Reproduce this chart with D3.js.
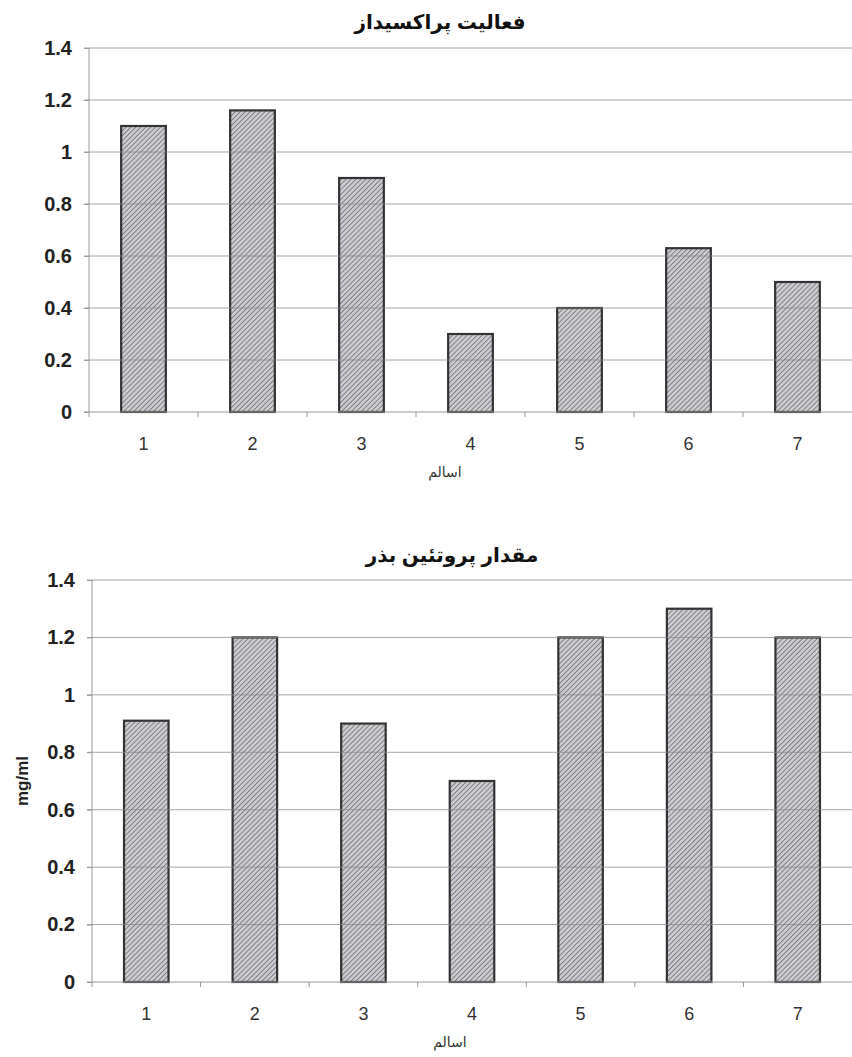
<!doctype html>
<html>
<head>
<meta charset="utf-8"/>
<script src="https://cdnjs.cloudflare.com/ajax/libs/d3/7.8.5/d3.min.js"></script>
<style>
  body { margin: 0; background: #fff; }
  svg { display: block; }
  .title { font-family: Arial, "DejaVu Sans", sans-serif; font-size: 20px; font-weight: bold; fill: #111; }
  .axtitle { font-family: Arial, "DejaVu Sans", sans-serif; font-size: 14px; fill: #333; }
</style>
</head>
<body>
<svg width="852" height="1057"></svg>
<script>
// categories (lines) and values
var categories = ["1", "2", "3", "4", "5", "6", "7"];
var peroxidase = [1.10, 1.16, 0.90, 0.30, 0.40, 0.63, 0.50];
var protein = [0.91, 1.20, 0.90, 0.70, 1.20, 1.30, 1.20];
var yTicks = [0, 0.2, 0.4, 0.6, 0.8, 1, 1.2, 1.4];

var titleTop = "فعالیت پراکسیداز";
var titleBottom = "مقدار پروتئین بذر";
var xTitle = "اسالم";
var yTitleBottom = "mg/ml";

var svg = d3.select("svg");

// hatch pattern for bars
var defs = svg.append("defs");
var pat = defs.append("pattern")
  .attr("id", "hatch")
  .attr("patternUnits", "userSpaceOnUse")
  .attr("width", 3.5).attr("height", 3.5)
  .attr("patternTransform", "rotate(45)");
pat.append("rect").attr("width", 3.5).attr("height", 3.5).attr("fill", "#cacacf");
pat.append("line").attr("x1", 0).attr("y1", 0).attr("x2", 0).attr("y2", 3.5)
  .attr("stroke", "#6e6e74").attr("stroke-width", 1.5);

function drawChart(cfg) {
  var x = d3.scaleBand().domain(categories).range([cfg.left, 852]).paddingInner(0).paddingOuter(0);
  var y = d3.scaleLinear().domain([0, 1.4]).range([cfg.bottom, cfg.top]);
  var bw = x.bandwidth() * 0.41;

  var g = svg.append("g");

  // y axis line
  g.append("line")
    .attr("x1", cfg.left).attr("x2", cfg.left)
    .attr("y1", y(1.4)).attr("y2", y(0))
    .attr("stroke", "#999").attr("stroke-width", 1);

  // bars
  g.selectAll("rect.bar")
    .data(cfg.values)
    .enter()
    .append("rect")
    .attr("class", "bar")
    .attr("x", (d, i) => x(categories[i]) + (x.bandwidth() - bw) / 2)
    .attr("y", d => y(d))
    .attr("width", bw)
    .attr("height", d => y(0) - y(d))
    .attr("fill", "url(#hatch)")
    .attr("stroke", "#333")
    .attr("stroke-width", 2.2);

  // gridlines (drawn over bars like the scan)
  g.selectAll("line.grid")
    .data(yTicks.filter(d => d > 0))
    .enter()
    .append("line")
    .attr("class", "grid")
    .attr("x1", cfg.left - 5).attr("x2", 852)
    .attr("y1", d => y(d)).attr("y2", d => y(d))
    .attr("stroke", "#8a8a8a").attr("stroke-opacity", 0.75).attr("stroke-width", 1);

  // y axis labels
  var ya = g.append("g")
    .attr("transform", "translate(" + cfg.left + ",0)")
    .call(d3.axisLeft(y).tickValues(yTicks).tickSize(5).tickPadding(12).tickFormat(d3.format("~g")));
  ya.select(".domain").remove();
  ya.selectAll(".tick line").attr("stroke", "#999");
  ya.selectAll(".tick text")
    .style("font-family", "Arial, 'Liberation Sans', sans-serif")
    .style("font-size", "20px").style("font-weight", "bold").style("fill", "#222");

  // x axis
  var xa = g.append("g")
    .attr("transform", "translate(0," + cfg.bottom + ")")
    .call(d3.axisBottom(x).tickSize(0).tickPadding(25));
  xa.select(".domain").remove();
  xa.selectAll(".tick text")
    .style("font-family", "Arial, 'Liberation Sans', sans-serif")
    .style("font-size", "18px").style("fill", "#333");
  g.append("line")
    .attr("x1", cfg.left - 5).attr("x2", 852)
    .attr("y1", cfg.bottom).attr("y2", cfg.bottom)
    .attr("stroke", "#999");
  g.selectAll("line.xt")
    .data(categories)
    .enter()
    .append("line")
    .attr("class", "xt")
    .attr("x1", d => x(d)).attr("x2", d => x(d))
    .attr("y1", cfg.bottom).attr("y2", cfg.bottom + 5)
    .attr("stroke", "#999");

  // titles
  g.append("text").attr("class", "title")
    .attr("x", cfg.titleX).attr("y", cfg.titleY)
    .attr("text-anchor", "middle")
    .text(cfg.title);
  g.append("text").attr("class", "axtitle")
    .attr("x", cfg.xTitleX).attr("y", cfg.xTitleY)
    .attr("text-anchor", "middle")
    .text(xTitle);
  if (cfg.yTitle) {
    g.append("text").attr("class", "axtitle")
      .attr("transform", "translate(28," + ((cfg.top + cfg.bottom) / 2) + ") rotate(-90)")
      .attr("text-anchor", "middle")
      .style("font-size", "17px").style("font-weight", "bold").style("fill", "#222")
      .text(cfg.yTitle);
  }
}

drawChart({ left: 89, top: 48, bottom: 412, values: peroxidase, title: titleTop, titleX: 440, titleY: 29, xTitleX: 445, xTitleY: 477 });
drawChart({ left: 92, top: 580, bottom: 982, values: protein, title: titleBottom, titleX: 452, titleY: 562, xTitleX: 450, xTitleY: 1047, yTitle: yTitleBottom });
</script>
</body>
</html>
